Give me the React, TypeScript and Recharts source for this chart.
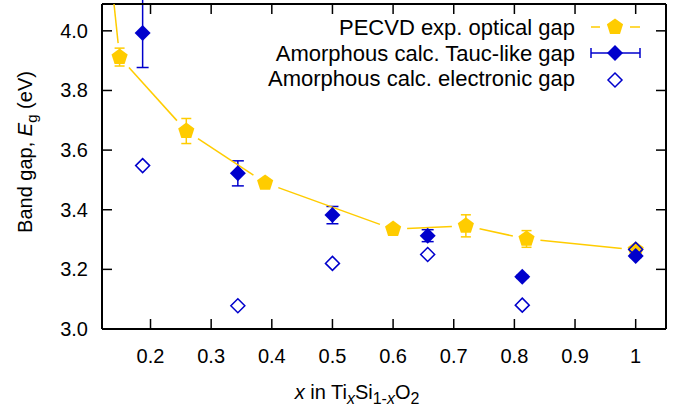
import React from 'react';
import { ComposedChart, Line, Scatter, XAxis, YAxis, ErrorBar } from 'recharts';

const YELLOW = '#FFCC00';
const BLUE = '#0000CC';
const FONT = '"Liberation Sans", Arial, sans-serif';

const xTicks = [0.2, 0.3, 0.4, 0.5, 0.6, 0.7, 0.8, 0.9, 1.0];
const yTicks = [3.0, 3.2, 3.4, 3.6, 3.8, 4.0];

// PECVD experimental optical gap
const pecvdX = [0.149, 0.259, 0.389, 0.6, 0.72, 0.82, 1.0];
const pecvdGap = [3.912, 3.664, 3.49, 3.335, 3.346, 3.302, 3.265];
const pecvdErr = [0.03, 0.042, 0.008, 0.008, 0.037, 0.028, 0.008];
// the connecting line comes in from off the top of the plot
const pecvdLeadX = [0.1];
const pecvdLeadGap = [4.86];

// amorphous calculations
const calcX = [0.187, 0.344, 0.5, 0.657, 0.813, 1.0];
const taucGap = [3.993, 3.522, 3.382, 3.313, 3.175, 3.245];
const taucErr = [0.116, 0.042, 0.029, 0.02, 0.005, 0.005];
const elecGap = [3.548, 3.078, 3.22, 3.25, 3.08, 3.267];

const legendLabels = ['PECVD exp. optical gap', 'Amorphous calc. Tauc-like gap', 'Amorphous calc. electronic gap'];

const pecvdData = pecvdX.map((x, i) => ({ x, y: pecvdGap[i], err: pecvdErr[i] }));
const pecvdLine = [
  ...pecvdLeadX.map((x, i) => ({ x, y: pecvdLeadGap[i], lead: true })),
  ...pecvdX.map((x, i) => ({ x, y: pecvdGap[i], lead: false })),
];
const taucData = calcX.map((x, i) => ({ x, y: taucGap[i], err: taucErr[i] }));
const elecData = calcX.map((x, i) => ({ x, y: elecGap[i] }));

const pentagon = (cx: number, cy: number, r: number) =>
  [0, 1, 2, 3, 4]
    .map((k) => {
      const a = ((-90 + k * 72) * Math.PI) / 180;
      return `${cx + r * Math.cos(a)},${cy + r * Math.sin(a)}`;
    })
    .join(' ');

const diamond = (cx: number, cy: number, h: number) =>
  `${cx},${cy - h} ${cx + h},${cy} ${cx},${cy + h} ${cx - h},${cy}`;

const Pentagon = (p: any) => <polygon points={pentagon(p.cx, p.cy, 8.5)} fill={YELLOW} />;
const FilledDiamond = (p: any) => <polygon points={diamond(p.cx, p.cy, 8)} fill={BLUE} />;
const OpenDiamond = (p: any) => (
  <polygon points={diamond(p.cx, p.cy, 7)} fill="none" stroke={BLUE} strokeWidth={1.5} />
);

// gnuplot-style linespoints: each segment stops short of the markers
const GAP = 14;
const LineSegment = (p: any) => {
  const pts = p.points;
  if (!pts || p.index === 0) return <g key={p.key} />;
  const a = pts[p.index - 1];
  const dx = p.cx - a.x;
  const dy = p.cy - a.y;
  const len = Math.hypot(dx, dy) || 1;
  const g0 = a.payload && a.payload.lead ? 0 : GAP;
  const g1 = GAP;
  return (
    <line
      key={p.key}
      x1={a.x + (dx / len) * g0}
      y1={a.y + (dy / len) * g0}
      x2={p.cx - (dx / len) * g1}
      y2={p.cy - (dy / len) * g1}
      stroke={YELLOW}
      strokeWidth={1.5}
    />
  );
};

const fmtX = (v: number) => (v === 1 ? '1' : v.toFixed(1));

const BottomTick = (p: any) => (
  <g>
    <line x1={p.x} x2={p.x} y1={p.y} y2={p.y - 10} stroke="#000" strokeWidth={1.5} />
    <text x={p.x} y={p.y + 34} textAnchor="middle" fontSize={20} fontFamily={FONT} fill="#000">
      {fmtX(p.payload.value)}
    </text>
  </g>
);
const TopTick = (p: any) => (
  <line x1={p.x} x2={p.x} y1={p.y} y2={p.y + 10} stroke="#000" strokeWidth={1.5} />
);
const LeftTick = (p: any) => (
  <g>
    <line x1={p.x} x2={p.x + 10} y1={p.y} y2={p.y} stroke="#000" strokeWidth={1.5} />
    <text x={p.x - 14} y={p.y + 7} textAnchor="end" fontSize={20} fontFamily={FONT} fill="#000">
      {p.payload.value.toFixed(1)}
    </text>
  </g>
);
const RightTick = (p: any) => (
  <line x1={p.x} x2={p.x - 10} y1={p.y} y2={p.y} stroke="#000" strokeWidth={1.5} />
);

const Legend = () => {
  const tx = 575;
  const mx = 615;
  return (
    <g fontFamily={FONT} fontSize={22} fill="#000">
      <text x={tx} y={35} textAnchor="end">{legendLabels[0]}</text>
      <line x1={591} x2={600} y1={27} y2={27} stroke={YELLOW} strokeWidth={1.5} />
      <line x1={630} x2={640} y1={27} y2={27} stroke={YELLOW} strokeWidth={1.5} />
      <polygon points={pentagon(mx, 27, 8.5)} fill={YELLOW} />

      <text x={tx} y={61} textAnchor="end">{legendLabels[1]}</text>
      <line x1={591} x2={640} y1={53} y2={53} stroke={BLUE} strokeWidth={1.5} />
      <line x1={591} x2={591} y1={48} y2={58} stroke={BLUE} strokeWidth={1.5} />
      <line x1={640} x2={640} y1={48} y2={58} stroke={BLUE} strokeWidth={1.5} />
      <polygon points={diamond(mx, 53, 8)} fill={BLUE} />

      <text x={tx} y={86} textAnchor="end">{legendLabels[2]}</text>
      <polygon points={diamond(mx, 80, 7)} fill="none" stroke={BLUE} strokeWidth={1.5} />
    </g>
  );
};

const Titles = () => (
  <g fontFamily={FONT} fontSize={20} fill="#000">
    <text x={357} y={399} textAnchor="middle">
      <tspan fontStyle="italic">x</tspan>
      <tspan> in Ti</tspan>
      <tspan fontStyle="italic" fontSize={16} dy={5}>x</tspan>
      <tspan dy={-5}>Si</tspan>
      <tspan fontSize={16} dy={5}>1-</tspan>
      <tspan fontStyle="italic" fontSize={16}>x</tspan>
      <tspan dy={-5}>O</tspan>
      <tspan fontSize={16} dy={5}>2</tspan>
    </text>
    <text x={32} y={152} textAnchor="middle" transform="rotate(-90, 32, 152)">
      <tspan>Band gap, </tspan>
      <tspan fontStyle="italic">E</tspan>
      <tspan fontSize={15} dy={5}>g</tspan>
      <tspan dy={-5}> (eV)</tspan>
    </text>
  </g>
);

const axisLine = { stroke: '#000', strokeWidth: 2 };

export default function App() {
  return (
    <div style={{ position: 'absolute', left: 0, top: 0 }}>
      <ComposedChart width={674} height={414} margin={{ top: 3, right: 7, bottom: 55, left: 101 }}>
        <XAxis
          type="number"
          dataKey="x"
          domain={[0.12, 1.05]}
          allowDataOverflow
          ticks={xTicks}
          interval={0}
          height={30}
          tickSize={0}
          tickMargin={0}
          tick={BottomTick}
          axisLine={axisLine}
        />
        <XAxis
          xAxisId="top"
          orientation="top"
          type="number"
          dataKey="x"
          domain={[0.12, 1.05]}
          allowDataOverflow
          ticks={xTicks}
          interval={0}
          height={1}
          tickSize={0}
          tickMargin={0}
          tick={TopTick}
          axisLine={axisLine}
        />
        <YAxis
          type="number"
          dataKey="y"
          domain={[3.0, 4.09]}
          allowDataOverflow
          ticks={yTicks}
          interval={0}
          width={1}
          tickSize={0}
          tickMargin={0}
          tick={LeftTick}
          axisLine={axisLine}
        />
        <YAxis
          yAxisId="right"
          orientation="right"
          type="number"
          dataKey="y"
          domain={[3.0, 4.09]}
          allowDataOverflow
          ticks={yTicks}
          interval={0}
          width={1}
          tickSize={0}
          tickMargin={0}
          tick={RightTick}
          axisLine={axisLine}
        />
        <Line
          data={pecvdLine}
          dataKey="y"
          type="linear"
          stroke="none"
          strokeWidth={0}
          dot={LineSegment}
          activeDot={false}
          isAnimationActive={false}
        />
        <Scatter data={pecvdData} dataKey="y" shape={Pentagon} isAnimationActive={false}>
          <ErrorBar dataKey="err" direction="y" width={5} stroke={YELLOW} strokeWidth={1.5} isAnimationActive={false} />
        </Scatter>
        <Scatter data={taucData} dataKey="y" shape={FilledDiamond} isAnimationActive={false}>
          <ErrorBar dataKey="err" direction="y" width={6} stroke={BLUE} strokeWidth={1.5} isAnimationActive={false} />
        </Scatter>
        <Scatter data={elecData} dataKey="y" shape={OpenDiamond} isAnimationActive={false} />
        <Legend />
        <Titles />
      </ComposedChart>
    </div>
  );
}
